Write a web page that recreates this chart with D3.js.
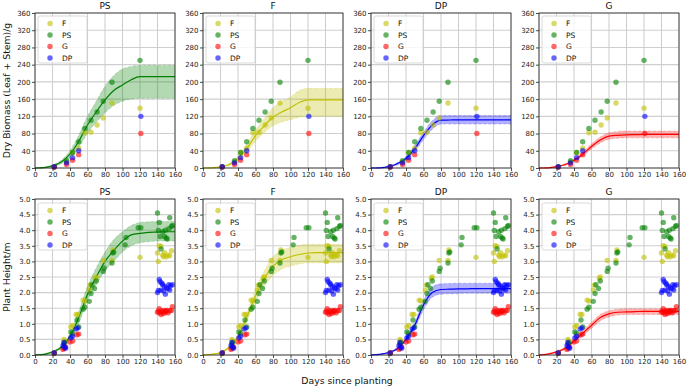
<!DOCTYPE html>
<html><head><meta charset="utf-8">
<script src="https://cdn.jsdelivr.net/npm/d3@7"></script>
<style>body{margin:0;background:#fff}svg{display:block;font-family:"DejaVu Sans",sans-serif}</style>
</head><body><svg id="c" width="688" height="387"></svg>
<script>
// ---------- DATA ----------
const panels = ["PS", "F", "DP", "G"];
const legendOrder = ["F", "PS", "G", "DP"];
const seriesColors = {F: "#bfbf00", PS: "#008000", G: "#ff0000", DP: "#0000ff"};

const xTicks = [0, 20, 40, 60, 80, 100, 120, 140, 160];
const bioTicks = [0, 40, 80, 120, 160, 200, 240, 280, 320, 360];
const hTicks = [0, 0.5, 1.0, 1.5, 2.0, 2.5, 3.0, 3.5, 4.0, 4.5, 5.0];

// observed biomass
const bioDaysFPS = [22, 36, 43, 50, 57, 64, 71, 78, 88, 120];
const bioF  = [3, 14, 36, 46, 82, 83, 100, 116, 151, 139];
const bioPS = [3, 17, 36, 61, 92, 111, 130, 155, 199, 250];
const bioDaysGDP = [22, 36, 43, 50, 121];
const bioG  = [2, 8, 18, 31, 80];
const bioDP = [3, 12, 24, 40, 120];

// observed plant height
const hDaysF = [22, 33, 34, 41, 43, 47, 49, 55, 57, 62, 63, 69, 70, 78, 88, 89, 120, 140, 141, 142, 144, 146, 147, 148, 150, 152, 154, 156];
const hF     = [0.08, 0.5, 0.45, 0.9, 0.95, 1.3, 1.3, 1.76, 1.73, 2.08, 2.24, 2.46, 2.5, 3.03, 3.03, 3.37, 3.13, 3.27, 3.0, 3.5, 3.48, 3.2, 3.15, 3.28, 3.15, 3.2, 3.18, 3.34];
const hDaysPS = [22, 33, 34, 41, 43, 48, 50, 55, 57, 62, 64, 65, 68, 70, 78, 79, 88, 89, 90, 103, 104, 118, 121, 140, 141, 142, 143, 144, 146, 148, 149, 150, 151, 153, 154, 156, 157];
const hPS     = [0.05, 0.35, 0.4, 0.74, 0.69, 1.12, 0.9, 1.47, 1.53, 1.72, 1.97, 2.25, 2.13, 2.37, 2.68, 2.78, 2.95, 3.27, 3.3, 3.53, 3.77, 4.08, 4.08, 4.55, 3.99, 4.25, 3.8, 3.4, 3.95, 3.8, 4.0, 3.75, 3.72, 4.05, 4.4, 4.12, 4.15];
const hDaysG = [22, 32, 33, 35, 40, 43, 48, 50, 140, 141, 142, 143, 144, 145, 146, 147, 148, 149, 150, 151, 152, 154, 156, 157];
const hG     = [0.06, 0.18, 0.22, 0.26, 0.42, 0.45, 0.65, 0.67, 1.37, 1.4, 1.48, 1.35, 1.3, 1.42, 1.38, 1.33, 1.43, 1.38, 1.4, 1.43, 1.35, 1.42, 1.43, 1.55];
const hDaysDP = [22, 32, 33, 34, 35, 41, 43, 47, 49, 140, 141, 142, 143, 144, 145, 146, 147, 148, 149, 150, 152, 153, 154, 155, 157];
const hDP     = [0.07, 0.3, 0.4, 0.25, 0.22, 0.55, 0.6, 0.83, 0.87, 2.0, 2.07, 2.42, 2.35, 2.08, 2.3, 2.25, 2.05, 2.2, 1.95, 2.15, 2.12, 2.25, 2.08, 2.22, 2.25];

// fitted curves (days 0..160 every 10)
const fitDays = [0, 10, 20, 30, 40, 50, 60, 70, 80, 90, 100, 110, 120, 130, 140, 150, 160];
const bioFitPS    = [0, 1, 5, 14, 32, 62, 100, 130, 158, 180, 193, 205, 212, 212, 212, 212, 212];
const bioFitPSHi  = [0, 1.5, 7, 18, 40, 76, 120, 155, 190, 215, 230, 236, 238, 238, 238, 238, 238];
const bioFitPSLo  = [0, 0.5, 3, 10, 24, 48, 80, 106, 128, 145, 155, 160, 162, 162, 162, 162, 162];
const bioFitF     = [0, 0.5, 2, 8, 22, 45, 75, 98, 118, 130, 140, 152, 158, 158, 158, 158, 158];
const bioFitFHi   = [0, 1, 3, 11, 28, 55, 88, 115, 140, 155, 165, 180, 185, 185, 185, 185, 185];
const bioFitFLo   = [0, 0.3, 1, 5, 17, 36, 62, 82, 98, 107, 112, 118, 120, 120, 120, 120, 120];
const bioFitDP    = [0, 0.5, 3, 10, 22, 45, 75, 100, 111, 111.5, 112, 112, 112, 112, 112, 112, 112];
const bioFitDPHi  = [0, 0.8, 4, 13, 26, 52, 83, 110, 122, 122, 122, 122, 122, 122, 122, 122, 122];
const bioFitDPLo  = [0, 0.3, 2, 7, 18, 38, 66, 90, 102, 102, 102, 102, 102, 102, 102, 102, 102];
const bioFitG     = [0, 0.5, 3, 8, 18, 32, 50, 65, 74, 76, 77, 77.5, 78, 78, 78, 78, 78];
const bioFitGHi   = [0, 0.8, 4, 10, 21, 37, 56, 72, 82, 85, 86, 86, 86, 86, 86, 86, 86];
const bioFitGLo   = [0, 0.3, 2, 6, 15, 27, 44, 58, 67, 69, 70, 70, 70, 70, 70, 70, 70];

const hFitPS   = [0, 0.02, 0.1, 0.25, 0.6, 1.2, 1.95, 2.5, 3.0, 3.35, 3.65, 3.85, 3.9, 3.93, 3.94, 3.95, 3.95];
const hFitPSHi = [0, 0.03, 0.12, 0.3, 0.7, 1.4, 2.2, 2.8, 3.3, 3.7, 3.95, 4.15, 4.25, 4.27, 4.28, 4.28, 4.28];
const hFitPSLo = [0, 0.01, 0.08, 0.2, 0.5, 1.0, 1.75, 2.25, 2.7, 3.0, 3.3, 3.5, 3.6, 3.63, 3.65, 3.65, 3.65];
const hFitF    = [0, 0.02, 0.08, 0.25, 0.6, 1.2, 1.9, 2.45, 2.85, 3.05, 3.15, 3.22, 3.27, 3.28, 3.28, 3.28, 3.28];
const hFitFHi  = [0, 0.03, 0.1, 0.3, 0.68, 1.35, 2.1, 2.7, 3.15, 3.35, 3.45, 3.52, 3.55, 3.55, 3.55, 3.55, 3.55];
const hFitFLo  = [0, 0.01, 0.06, 0.2, 0.52, 1.05, 1.7, 2.2, 2.55, 2.75, 2.85, 2.92, 2.95, 2.95, 2.95, 2.95, 2.95];
const hFitDP   = [0, 0.02, 0.08, 0.2, 0.5, 0.95, 1.6, 2.0, 2.1, 2.11, 2.12, 2.12, 2.13, 2.13, 2.13, 2.13, 2.13];
const hFitDPHi = [0, 0.03, 0.1, 0.24, 0.55, 1.05, 1.75, 2.18, 2.28, 2.29, 2.3, 2.3, 2.3, 2.3, 2.3, 2.3, 2.3];
const hFitDPLo = [0, 0.01, 0.06, 0.16, 0.45, 0.85, 1.45, 1.85, 1.95, 1.96, 1.97, 1.98, 1.98, 1.98, 1.98, 1.98, 1.98];
const hFitG    = [0, 0.03, 0.1, 0.22, 0.45, 0.7, 0.95, 1.2, 1.32, 1.37, 1.38, 1.39, 1.4, 1.4, 1.4, 1.4, 1.4];
const hFitGHi  = [0, 0.04, 0.12, 0.26, 0.5, 0.78, 1.05, 1.3, 1.42, 1.47, 1.48, 1.48, 1.48, 1.48, 1.48, 1.48, 1.48];
const hFitGLo  = [0, 0.02, 0.08, 0.18, 0.4, 0.62, 0.85, 1.1, 1.22, 1.28, 1.3, 1.3, 1.3, 1.3, 1.3, 1.3, 1.3];

// ---------- assembly ----------
const obsBio = {
  F: {d: bioDaysFPS, v: bioF}, PS: {d: bioDaysFPS, v: bioPS},
  G: {d: bioDaysGDP, v: bioG}, DP: {d: bioDaysGDP, v: bioDP}
};
const obsH = {
  F: {d: hDaysF, v: hF}, PS: {d: hDaysPS, v: hPS},
  G: {d: hDaysG, v: hG}, DP: {d: hDaysDP, v: hDP}
};
const fitBio = {
  PS: [bioFitPS, bioFitPSLo, bioFitPSHi], F: [bioFitF, bioFitFLo, bioFitFHi],
  DP: [bioFitDP, bioFitDPLo, bioFitDPHi], G: [bioFitG, bioFitGLo, bioFitGHi]
};
const fitH = {
  PS: [hFitPS, hFitPSLo, hFitPSHi], F: [hFitF, hFitFLo, hFitFHi],
  DP: [hFitDP, hFitDPLo, hFitDPHi], G: [hFitG, hFitGLo, hFitGHi]
};

const svg = d3.select("#c");
const panelLeft = 35, panelW = 140, panelStep = 168;
const rows = [
  {top: 13, bottom: 168, domain: [0, 360], ticks: bioTicks, fmt: d3.format("d"), obs: obsBio, fit: fitBio},
  {top: 199, bottom: 355, domain: [0, 5], ticks: hTicks, fmt: d3.format(".1f"), obs: obsH, fit: fitH}
];

rows.forEach((row, ri) => {
  panels.forEach((p, pi) => {
    const x0 = panelLeft + pi * panelStep;
    const x = d3.scaleLinear().domain([0, 160]).range([x0, x0 + panelW]);
    const y = d3.scaleLinear().domain(row.domain).range([row.bottom, row.top]);
    const g = svg.append("g");

    // grid
    g.append("g").selectAll("line").data(xTicks).join("line")
      .attr("x1", d => x(d)).attr("x2", d => x(d)).attr("y1", row.top).attr("y2", row.bottom)
      .attr("stroke", "#cfcfcf").attr("stroke-width", 1.1);
    g.append("g").selectAll("line").data(row.ticks).join("line")
      .attr("x1", x0).attr("x2", x0 + panelW).attr("y1", d => y(d)).attr("y2", d => y(d))
      .attr("stroke", "#cfcfcf").attr("stroke-width", 1.1);

    // fit band and line
    const [mean, lo, hi] = row.fit[p];
    const col = seriesColors[p];
    const pts = fitDays.map((d, i) => ({d, m: mean[i], lo: lo[i], hi: hi[i]}));
    const area = d3.area().x(d => x(d.d)).y0(d => y(d.lo)).y1(d => y(d.hi)).curve(d3.curveMonotoneX);
    g.append("path").datum(pts).attr("d", area).attr("fill", col).attr("fill-opacity", 0.3);
    ["lo", "hi"].forEach(k => {
      g.append("path").datum(pts)
        .attr("d", d3.line().x(d => x(d.d)).y(d => y(d[k])).curve(d3.curveMonotoneX))
        .attr("fill", "none").attr("stroke", col).attr("stroke-opacity", 0.25)
        .attr("stroke-width", 0.8).attr("stroke-dasharray", "3,2");
    });
    g.append("path").datum(pts)
      .attr("d", d3.line().x(d => x(d.d)).y(d => y(d.m)).curve(d3.curveMonotoneX))
      .attr("fill", "none").attr("stroke", col).attr("stroke-width", 1.2);

    // observed points
    legendOrder.forEach(s => {
      const o = row.obs[s];
      g.append("g").selectAll("circle").data(o.d.map((d, i) => [d, o.v[i]])).join("circle")
        .attr("cx", d => x(d[0])).attr("cy", d => y(d[1])).attr("r", 2.7)
        .attr("fill", seriesColors[s]).attr("fill-opacity", 0.6);
    });

    // frame
    g.append("rect").attr("x", x0).attr("y", row.top).attr("width", panelW)
      .attr("height", row.bottom - row.top).attr("fill", "none")
      .attr("stroke", "#222").attr("stroke-width", 0.8);

    // axes
    const ax = g.append("g").attr("transform", `translate(0,${row.bottom})`)
      .call(d3.axisBottom(x).tickValues(xTicks).tickSize(3).tickPadding(1.5).tickFormat(d3.format("d")));
    const ay = g.append("g").attr("transform", `translate(${x0},0)`)
      .call(d3.axisLeft(y).tickValues(row.ticks).tickSize(3).tickPadding(1.5).tickFormat(row.fmt));
    [ax, ay].forEach(a => {
      a.select(".domain").remove();
      a.selectAll("text").attr("font-size", 7).attr("fill", "#222").attr("font-family", "DejaVu Sans");
      a.selectAll("line").attr("stroke", "#222").attr("stroke-width", 0.8);
    });

    // title
    g.append("text").attr("x", x0 + panelW / 2).attr("y", row.top - 4.5)
      .attr("text-anchor", "middle").attr("font-size", 9).attr("fill", "#111").text(p);

    // legend
    const lx = x0 + 3, ly = row.top + 3 + (ri ? 1 : 0);
    const leg = g.append("g");
    leg.append("rect").attr("x", lx).attr("y", ly).attr("width", 49).attr("height", 47)
      .attr("rx", 2).attr("fill", "#fff").attr("fill-opacity", 0.8)
      .attr("stroke", "#d0d0d0").attr("stroke-width", 0.8);
    legendOrder.forEach((s, i) => {
      const yy = ly + 7.5 + i * 11.5;
      leg.append("circle").attr("cx", lx + 12).attr("cy", yy).attr("r", 2.7)
        .attr("fill", seriesColors[s]).attr("fill-opacity", 0.6);
      leg.append("text").attr("x", lx + 24).attr("y", yy + 2.7).attr("font-size", 7.5)
        .attr("fill", "#111").text(s);
    });
  });
});

// axis labels
svg.append("text").attr("transform", `translate(9.5,${(13 + 168) / 2}) rotate(-90)`)
  .attr("text-anchor", "middle").attr("font-size", 9.3).attr("fill", "#111")
  .text("Dry Biomass (Leaf + Stem)/g");
svg.append("text").attr("transform", `translate(9.5,${(199 + 355) / 2}) rotate(-90)`)
  .attr("text-anchor", "middle").attr("font-size", 9.3).attr("fill", "#111")
  .text("Plant Height/m");
svg.append("text").attr("x", 347).attr("y", 384).attr("text-anchor", "middle")
  .attr("font-size", 9.3).attr("fill", "#111").text("Days since planting");
</script></body></html>
